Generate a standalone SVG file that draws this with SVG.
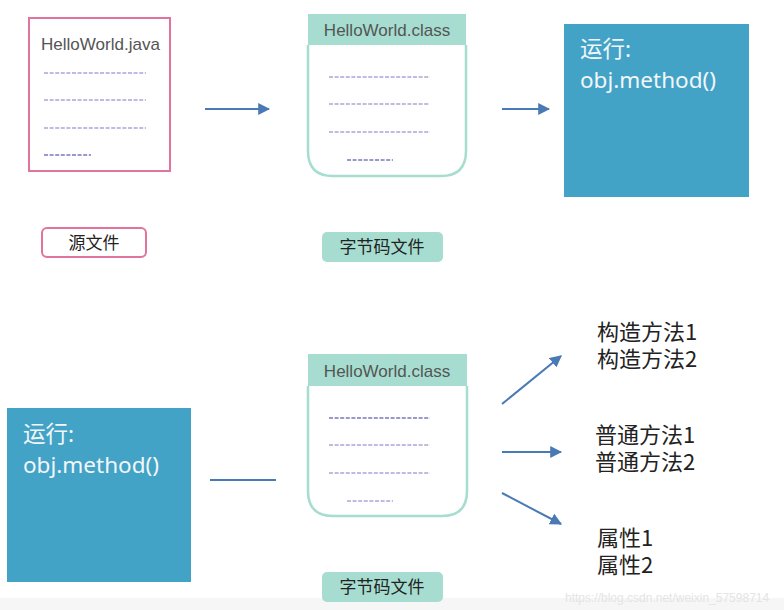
<svg xmlns="http://www.w3.org/2000/svg" width="784" height="610" viewBox="0 0 784 610">
<defs>
<style>
.lat{font-family:"Liberation Sans",Arial,sans-serif;font-size:17px;fill:#555}
.cjk{font-family:"Noto Sans CJK SC","Noto Sans",sans-serif;font-size:17px;fill:#222}
.run{font-family:"Noto Sans","Noto Sans CJK SC",sans-serif;font-size:22.5px;fill:#f2f6f8}
.item{font-family:"Noto Sans CJK SC","Noto Sans",sans-serif;font-size:22px;fill:#222}
.dash{stroke:#7f7cc4;stroke-width:1.2;stroke-dasharray:4 1.6;fill:none}
.dash2{stroke:#34349a;stroke-width:1.2;stroke-dasharray:4 1.6;fill:none}
.conn{stroke:#4a7ab5;stroke-width:2;fill:none}
.teal{fill:#a6ddd0}
.blue{fill:#42a3c7}
</style>
<marker id="ah" viewBox="0 0 10 10" refX="9" refY="5" markerWidth="6" markerHeight="6" markerUnits="strokeWidth" orient="auto">
<path d="M0,0 L10,5 L0,10 z" fill="#4a7ab5"/>
</marker>
</defs>
<rect width="784" height="610" fill="#ffffff"/>
<rect x="0" y="598" width="784" height="12" fill="#f6f6f6"/>

<g id="java-file">
<rect x="29" y="18" width="141" height="153" fill="#fff" stroke="#e2739c" stroke-width="2"/>
<text class="lat" x="41" y="50" textLength="119" lengthAdjust="spacingAndGlyphs">HelloWorld.java</text>
<line class="dash" x1="44" y1="73" x2="146" y2="73"/>
<line class="dash" x1="44" y1="100" x2="146" y2="100"/>
<line class="dash" x1="44" y1="128" x2="146" y2="128"/>
<line class="dash2" x1="44" y1="155" x2="91" y2="155"/>
</g>

<g id="label-source">
<rect x="42" y="228" width="104" height="29" rx="5" fill="#fff" stroke="#e2739c" stroke-width="2"/>
<text class="cjk" x="94" y="249" text-anchor="middle">源文件</text>
</g>

<g id="class-file-top">
<path d="M308,45 L308,151 Q308,176 333,176 L441,176 Q466,176 466,151 L466,45" fill="#fff" stroke="#a6ddd0" stroke-width="2.5"/>
<rect class="teal" x="308" y="14" width="158" height="31"/>
<text class="lat" x="387" y="36" text-anchor="middle">HelloWorld.class</text>
<line class="dash" x1="329" y1="77" x2="430" y2="77"/>
<line class="dash" x1="329" y1="104" x2="430" y2="104"/>
<line class="dash" x1="329" y1="132" x2="430" y2="132"/>
<line class="dash2" x1="347" y1="160" x2="393" y2="160"/>
</g>

<g id="label-bytecode-top">
<rect class="teal" x="322" y="232" width="121" height="30" rx="5"/>
<text class="cjk" x="382" y="253" text-anchor="middle">字节码文件</text>
</g>

<g id="run-top">
<rect class="blue" x="564" y="24" width="185" height="173"/>
<text class="run" x="580" y="57">运行:<tspan x="580" y="88">obj.method()</tspan></text>
</g>

<g id="run-bottom">
<rect class="blue" x="7" y="408" width="184" height="174"/>
<text class="run" x="23" y="442">运行:<tspan x="23" y="473">obj.method()</tspan></text>
</g>

<g id="class-file-bottom">
<path d="M308,386 L308,491 Q308,516 333,516 L442,516 Q467,516 467,491 L467,386" fill="#fff" stroke="#a6ddd0" stroke-width="2.5"/>
<rect class="teal" x="308" y="354" width="159" height="32"/>
<text class="lat" x="387" y="377" text-anchor="middle">HelloWorld.class</text>
<line class="dash2" x1="329" y1="418" x2="430" y2="418"/>
<line class="dash" x1="329" y1="445" x2="430" y2="445"/>
<line class="dash" x1="329" y1="473" x2="430" y2="473"/>
<line class="dash" x1="347" y1="501" x2="393" y2="501"/>
</g>

<g id="label-bytecode-bottom">
<rect class="teal" x="322" y="572" width="121" height="30" rx="5"/>
<text class="cjk" x="382" y="593" text-anchor="middle">字节码文件</text>
</g>

<g id="items-constructors">
<text class="item" x="597" y="340">构造方法1<tspan x="597" y="367">构造方法2</tspan></text>
</g>
<g id="items-methods">
<text class="item" x="595" y="443">普通方法1<tspan x="595" y="470">普通方法2</tspan></text>
</g>
<g id="items-fields">
<text class="item" x="597" y="546">属性1<tspan x="597" y="573">属性2</tspan></text>
</g>

<g id="connectors">
<line class="conn" x1="205" y1="109" x2="269" y2="109" marker-end="url(#ah)"/>
<line class="conn" x1="502" y1="109" x2="549" y2="109" marker-end="url(#ah)"/>
<line class="conn" x1="210" y1="480" x2="276" y2="480"/>
<line class="conn" x1="502" y1="404" x2="561" y2="356" marker-end="url(#ah)"/>
<line class="conn" x1="502" y1="452" x2="561" y2="452" marker-end="url(#ah)"/>
<line class="conn" x1="502" y1="493" x2="561" y2="524" marker-end="url(#ah)"/>
</g>

<text x="565" y="602" font-family="Liberation Sans,Arial,sans-serif" font-size="12" fill="#e4e4e4">https://blog.csdn.net/weixin_57598714</text>
</svg>
